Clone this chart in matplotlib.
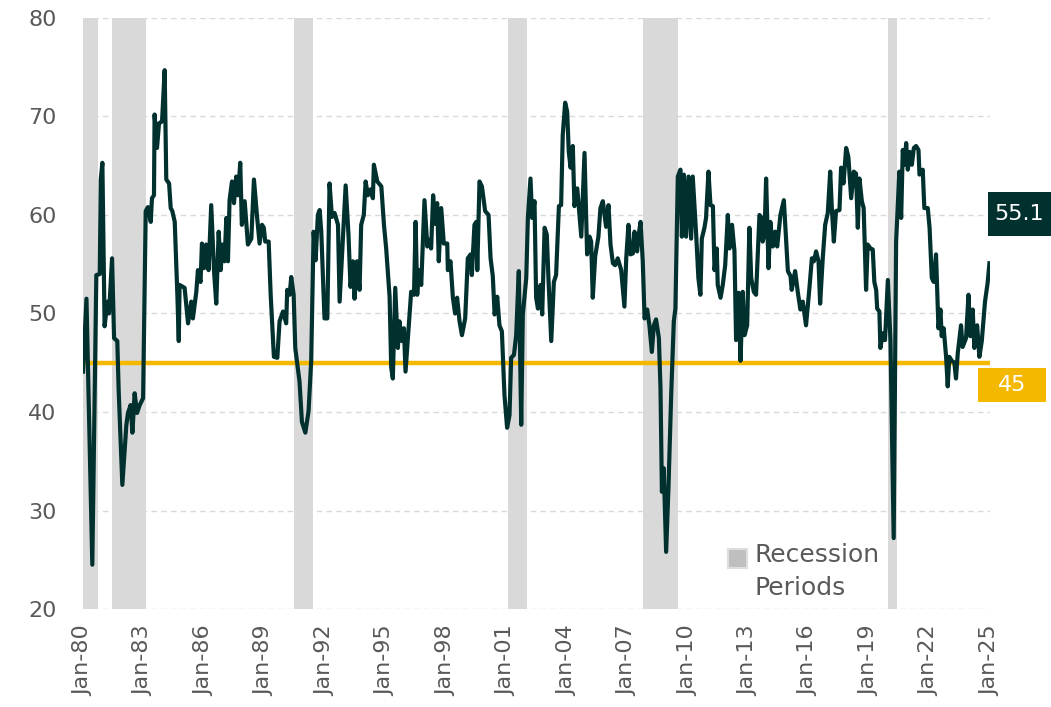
import matplotlib.pyplot as plt
from matplotlib.patches import Rectangle

# ISM new orders (decimal year, index value)
years = [
    1980.00, 1980.17, 1980.46, 1980.66, 1980.83, 1980.88, 1980.96, 1981.07, 1981.21, 1981.29,
    1981.44, 1981.54, 1981.70, 1981.77, 1981.95, 1982.15, 1982.23, 1982.36, 1982.45, 1982.56,
    1982.68, 1982.81, 1982.98, 1983.11, 1983.22, 1983.36, 1983.42, 1983.52, 1983.55, 1983.67,
    1983.77, 1983.92, 1984.05, 1984.13, 1984.27, 1984.35, 1984.43, 1984.55, 1984.68, 1984.75,
    1984.79, 1985.04, 1985.21, 1985.37, 1985.45, 1985.62, 1985.70, 1985.83, 1985.90, 1986.00,
    1986.11, 1986.23, 1986.36, 1986.50, 1986.61, 1986.73, 1986.83, 1986.91, 1987.02, 1987.11,
    1987.19, 1987.27, 1987.39, 1987.49, 1987.60, 1987.69, 1987.80, 1987.88, 1988.02, 1988.18,
    1988.35, 1988.48, 1988.64, 1988.76, 1988.88, 1988.97, 1989.04, 1989.21, 1989.31, 1989.47,
    1989.64, 1989.75, 1989.92, 1990.08, 1990.13, 1990.25, 1990.33, 1990.45, 1990.53, 1990.74,
    1990.86, 1991.03, 1991.19, 1991.32, 1991.44, 1991.54, 1991.65, 1991.74, 1991.82, 1991.98,
    1992.12, 1992.23, 1992.35, 1992.48, 1992.65, 1992.73, 1992.89, 1993.03, 1993.17, 1993.27,
    1993.39, 1993.47, 1993.59, 1993.72, 1993.80, 1993.93, 1994.02, 1994.13, 1994.27, 1994.38,
    1994.43, 1994.60, 1994.80, 1994.93, 1995.04, 1995.21, 1995.29, 1995.37, 1995.49, 1995.62,
    1995.70, 1995.82, 1995.92, 1996.00, 1996.28, 1996.42, 1996.50, 1996.58, 1996.65, 1996.78,
    1996.94, 1997.08, 1997.14, 1997.27, 1997.37, 1997.47, 1997.57, 1997.65, 1997.77, 1997.90,
    1998.07, 1998.10, 1998.23, 1998.35, 1998.46, 1998.56, 1998.68, 1998.80, 1998.96, 1999.09,
    1999.23, 1999.29, 1999.42, 1999.51, 1999.56, 1999.67, 1999.79, 1999.95, 2000.12, 2000.22,
    2000.33, 2000.42, 2000.55, 2000.66, 2000.78, 2000.91, 2001.04, 2001.16, 2001.24, 2001.38,
    2001.49, 2001.62, 2001.74, 2001.82, 2001.99, 2002.07, 2002.20, 2002.28, 2002.40, 2002.48,
    2002.57, 2002.70, 2002.78, 2002.90, 2003.01, 2003.09, 2003.23, 2003.36, 2003.47, 2003.61,
    2003.72, 2003.80, 2003.92, 2004.02, 2004.10, 2004.19, 2004.30, 2004.38, 2004.52, 2004.72,
    2004.88, 2005.01, 2005.13, 2005.21, 2005.29, 2005.41, 2005.57, 2005.67, 2005.79, 2005.95,
    2006.07, 2006.17, 2006.29, 2006.40, 2006.53, 2006.70, 2006.86, 2006.95, 2007.06, 2007.16,
    2007.28, 2007.36, 2007.49, 2007.57, 2007.66, 2007.77, 2007.86, 2007.99, 2008.10, 2008.22,
    2008.32, 2008.43, 2008.57, 2008.65, 2008.72, 2008.81, 2008.93, 2009.05, 2009.18, 2009.31,
    2009.39, 2009.51, 2009.64, 2009.71, 2009.81, 2009.92, 2010.04, 2010.17, 2010.25, 2010.42,
    2010.53, 2010.63, 2010.70, 2010.83, 2010.91, 2011.03, 2011.13, 2011.25, 2011.33, 2011.44,
    2011.49, 2011.63, 2011.74, 2011.86, 2011.99, 2012.07, 2012.20, 2012.32, 2012.40, 2012.53,
    2012.62, 2012.73, 2012.82, 2012.95, 2013.06, 2013.15, 2013.28, 2013.39, 2013.48, 2013.56,
    2013.64, 2013.72, 2013.81, 2013.89, 2014.01, 2014.10, 2014.22, 2014.34, 2014.44, 2014.60,
    2014.77, 2014.97, 2015.10, 2015.16, 2015.33, 2015.46, 2015.59, 2015.71, 2015.87, 2016.04,
    2016.16, 2016.26, 2016.37, 2016.49, 2016.57, 2016.70, 2016.82, 2016.95, 2017.07, 2017.15,
    2017.25, 2017.36, 2017.53, 2017.61, 2017.73, 2017.86, 2017.97, 2018.11, 2018.24, 2018.35,
    2018.44, 2018.52, 2018.64, 2018.73, 2018.85, 2018.93, 2019.07, 2019.18, 2019.26, 2019.35,
    2019.40, 2019.51, 2019.56, 2019.68, 2019.79, 2019.93, 2020.06, 2020.22, 2020.34, 2020.50,
    2020.59, 2020.67, 2020.75, 2020.84, 2020.92, 2021.02, 2021.12, 2021.22, 2021.33, 2021.45,
    2021.50, 2021.66, 2021.74, 2021.91, 2022.00, 2022.11, 2022.21, 2022.32, 2022.44, 2022.54,
    2022.60, 2022.70, 2022.82, 2022.90, 2022.98, 2023.10, 2023.23, 2023.31, 2023.40, 2023.56,
    2023.64, 2023.81, 2023.93, 2024.02, 2024.14, 2024.22, 2024.36, 2024.47, 2024.59, 2024.75,
    2024.88, 2024.97,
]
new_orders = [
    44.1, 51.5, 24.5, 53.9, 54.0, 63.6, 65.3, 48.7, 51.2, 50.0,
    55.6, 47.5, 47.2, 42.1, 32.6, 38.7, 39.9, 40.7, 37.9, 41.9,
    39.9, 40.7, 41.4, 60.4, 60.8, 59.3, 61.7, 62.0, 70.2, 66.8,
    69.3, 69.5, 74.7, 63.6, 63.2, 60.7, 60.4, 59.3, 51.9, 47.2,
    52.9, 52.6, 49.0, 51.2, 49.5, 52.2, 54.4, 53.2, 57.1, 54.6,
    57.0, 54.4, 61.0, 54.3, 51.0, 58.3, 54.4, 57.0, 55.3, 59.7,
    55.3, 61.5, 63.4, 61.2, 63.9, 62.0, 65.3, 59.0, 61.4, 57.0,
    57.6, 63.6, 59.7, 57.1, 59.0, 58.7, 57.3, 57.3, 51.9, 45.6,
    45.5, 49.2, 50.2, 49.0, 52.4, 51.9, 53.7, 51.9, 46.5, 43.1,
    39.0, 37.9, 40.1, 45.2, 58.3, 55.4, 60.0, 60.5, 58.3, 49.5,
    49.5, 63.2, 59.8, 60.2, 59.0, 51.2, 57.6, 63.0, 58.0, 52.7,
    55.3, 51.5, 55.3, 52.4, 59.0, 60.0, 63.4, 62.0, 62.6, 61.7,
    65.1, 63.4, 62.9, 59.0, 56.6, 51.7, 44.5, 43.4, 52.6, 46.5,
    49.2, 47.2, 48.5, 44.1, 52.2, 51.9, 59.3, 51.9, 54.4, 52.9,
    61.5, 56.8, 57.5, 56.6, 62.0, 59.1, 61.2, 55.3, 60.7, 57.1,
    57.1, 54.4, 55.3, 51.6, 50.0, 51.6, 49.2, 47.8, 49.5, 55.6,
    56.0, 53.9, 59.0, 59.3, 54.4, 63.4, 62.9, 60.4, 60.0, 55.6,
    53.8, 49.9, 51.7, 48.8, 48.2, 41.7, 38.4, 39.7, 45.5, 45.8,
    47.8, 54.3, 38.7, 49.9, 53.6, 59.7, 63.7, 59.7, 61.4, 51.6,
    50.5, 52.9, 49.9, 58.7, 58.0, 53.6, 47.2, 53.2, 53.9, 60.9,
    61.0, 68.1, 71.4, 70.5, 66.4, 64.8, 67.0, 60.9, 62.7, 57.8,
    66.3, 56.0, 57.8, 57.3, 51.6, 55.8, 57.8, 60.7, 61.4, 58.8,
    61.0, 57.0, 55.1, 54.9, 55.6, 54.4, 50.7, 55.6, 59.0, 56.0,
    56.1, 58.3, 56.3, 58.0, 59.3, 55.3, 49.5, 50.4, 48.8, 46.1,
    48.8, 49.4, 47.5, 42.4, 31.9, 34.3, 25.8, 32.6, 41.7, 49.2,
    50.5, 63.9, 64.6, 57.8, 64.1, 57.8, 63.9, 57.6, 63.9, 58.0,
    53.6, 51.9, 57.6, 58.7, 59.7, 64.4, 61.0, 60.9, 54.4, 56.6,
    52.9, 51.6, 52.9, 54.9, 60.0, 56.6, 59.0, 56.3, 47.3, 52.1,
    45.2, 52.2, 47.8, 48.8, 58.7, 53.6, 52.2, 51.9, 56.3, 60.0,
    59.8, 57.3, 58.0, 63.7, 54.6, 59.3, 56.8, 58.3, 56.8, 60.0,
    61.5, 54.3, 53.8, 52.4, 54.3, 52.2, 50.4, 51.2, 48.8, 52.6,
    55.6, 55.3, 56.3, 55.3, 51.0, 55.6, 59.0, 60.2, 64.4, 60.7,
    57.3, 60.4, 60.5, 64.8, 63.2, 66.8, 65.9, 61.7, 64.4, 64.2,
    58.7, 63.7, 61.4, 60.7, 52.4, 57.0, 56.6, 56.5, 53.2, 52.4,
    50.5, 50.2, 46.5, 48.0, 47.3, 53.4, 47.2, 27.2, 57.3, 64.4,
    59.7, 66.6, 65.1, 67.3, 64.6, 66.4, 65.1, 66.8, 67.0, 66.6,
    64.1, 64.6, 60.7, 60.7, 58.7, 53.6, 53.2, 56.0, 48.5, 50.4,
    47.7, 48.5, 45.6, 42.6, 45.6, 45.2, 45.0, 43.4, 46.0, 48.8,
    46.6, 47.5, 51.9, 47.7, 50.4, 46.5, 48.8, 45.6, 47.2, 51.2,
    53.1, 55.1,
]

rec_start = [1980.00, 1981.44, 1990.47, 2001.08, 2007.78, 2019.93]
rec_end = [1980.74, 1983.12, 1991.41, 2002.02, 2009.51, 2020.38]

tick_years = list(range(1980, 2026, 3))
tick_labels = [f"Jan-{y % 100:02d}" for y in tick_years]

latest = new_orders[-1]
threshold = 45

dark = '#01312f'
gold = '#f5b800'
grey_txt = '#595959'

fig = plt.figure(figsize=(10.51, 7.07), dpi=100)
ax = fig.add_axes([0.079, 0.1386, 0.863, 0.836])

for s, e in zip(rec_start, rec_end):
    ax.axvspan(s, e, color='#d9d9d9', lw=0, zorder=1)

ax.plot(years, new_orders, color=dark, lw=3, solid_joinstyle='round', zorder=4)
ax.plot([1980, 2025.1], [threshold, threshold], color=gold, lw=3.2,
        solid_capstyle='round', zorder=3)

ax.set_xlim(1980, 2025)
ax.set_ylim(20, 80)
ax.set_yticks(range(20, 81, 10))
ax.set_xticks(tick_years)
ax.set_xticklabels(tick_labels, rotation=90)
ax.grid(axis='y', color='#d9d9d9', ls=(0, (4, 3)), lw=1, zorder=0)
ax.set_axisbelow(True)
for sp in ax.spines.values():
    sp.set_visible(False)
ax.tick_params(axis='both', length=0, labelsize=16, labelcolor=grey_txt)
ax.tick_params(axis='y', pad=19)
ax.tick_params(axis='x', pad=12)

# value tags on the right
fig.patches.append(Rectangle((0.940, 0.666), 0.062, 0.0624, transform=fig.transFigure,
                             facecolor=dark, edgecolor='none'))
fig.text(0.970, 0.697, f"{latest}", color='white', fontsize=16, ha='center', va='center')
fig.patches.append(Rectangle((0.9305, 0.4314), 0.0647, 0.0481, transform=fig.transFigure,
                             facecolor=gold, edgecolor='none'))
fig.text(0.963, 0.4554, f"{threshold}", color='white', fontsize=16, ha='center', va='center')

# recession legend
fig.patches.append(Rectangle((0.6927, 0.1965), 0.0185, 0.0275, transform=fig.transFigure,
                             facecolor='#bfbfbf', edgecolor='#dedede', lw=1.5))
fig.text(0.718, 0.232, "Recession\nPeriods", color=grey_txt, fontsize=18, ha='left', va='top',
         linespacing=1.45)

fig.savefig('out.png', dpi=100)
